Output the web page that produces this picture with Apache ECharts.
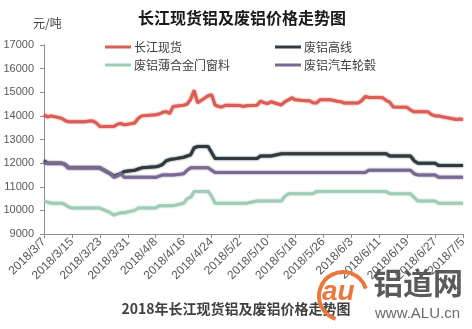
<!DOCTYPE html>
<html>
<head>
<meta charset="utf-8">
<script src="https://cdn.jsdelivr.net/npm/echarts@6/dist/echarts.min.js"></script>
<style>
  html, body { margin: 0; padding: 0; background: #fff; }
  #chart { width: 472px; height: 329px; }
</style>
</head>
<body>
<div id="chart"></div>
<script>
// Trading days (2018) and closing prices, 元/吨
const tradeDates = [
  '3/7','3/8','3/9','3/12','3/13','3/14','3/15','3/16','3/19','3/20','3/21','3/22','3/23','3/26','3/27','3/28','3/29','3/30',
  '4/2','4/3','4/4','4/8','4/9','4/10','4/11','4/12','4/13','4/16','4/17','4/18','4/19','4/20','4/23','4/24','4/25','4/26','4/27','4/28',
  '5/2','5/3','5/4','5/7','5/8','5/9','5/10','5/11','5/14','5/15','5/16','5/17','5/18','5/21','5/22','5/23','5/24','5/25','5/28','5/29','5/30','5/31',
  '6/1','6/4','6/5','6/6','6/7','6/8','6/11','6/12','6/13','6/14','6/15','6/19','6/20','6/21','6/22','6/25','6/26','6/27','6/28','6/29',
  '7/2','7/3','7/4','7/5'
];

const spotChangjiang = [
  14050,13950,14000,13900,13800,13750,13750,13750,13750,13780,13780,13700,13550,13550,13550,13650,13680,13620,
  13700,13900,14000,14050,14080,14150,14180,14100,14400,14450,14500,14700,15080,14550,14850,14900,14460,14400,14380,14450,
  14440,14400,14430,14450,14620,14560,14520,14600,14460,14600,14680,14760,14680,14640,14640,14560,14540,14680,14680,14650,14620,14600,
  14540,14540,14540,14650,14820,14780,14780,14770,14650,14580,14380,14360,14250,14170,14170,14170,14050,14000,14000,13960,
  13880,13850,13870,13850
];

const scrapWireRod = [
  12100,12000,12000,12000,11950,11800,11800,11800,11800,11800,11800,11800,11800,11550,11450,11500,11550,11650,
  11700,11750,11800,11850,11880,11950,12100,12150,12170,12250,12300,12350,12650,12700,12700,12450,12200,12200,12200,12200,
  12200,12200,12200,12200,12300,12300,12300,12300,12400,12400,12400,12400,12400,12400,12400,12400,12400,12400,12400,12400,12400,12400,
  12400,12400,12400,12400,12400,12400,12400,12400,12400,12300,12300,12300,12300,12100,12000,12000,12000,12000,11900,11900,
  11900,11900,11900,11900
];

const scrapWindowFrame = [
  10400,10350,10300,10300,10250,10150,10100,10100,10100,10100,10100,10100,10100,9900,9800,9850,9900,9900,
  10000,10100,10100,10100,10200,10200,10200,10200,10200,10300,10500,10550,10800,10800,10800,10600,10300,10300,10300,10300,
  10300,10300,10300,10400,10400,10400,10400,10400,10400,10600,10700,10700,10700,10700,10700,10700,10800,10800,10800,10800,10800,10800,
  10800,10800,10800,10800,10800,10800,10800,10800,10800,10700,10700,10700,10700,10550,10400,10400,10400,10400,10300,10300,
  10300,10300,10300,10300
];

const scrapWheelHub = [
  12000,12000,12000,12000,11950,11800,11800,11800,11800,11800,11800,11800,11800,11550,11400,11450,11550,11400,
  11400,11400,11400,11400,11450,11500,11500,11500,11500,11550,11700,11800,11800,11800,11800,11700,11600,11600,11600,11600,
  11600,11600,11600,11600,11600,11600,11600,11600,11600,11600,11600,11600,11600,11600,11600,11600,11600,11600,11600,11600,11600,11600,
  11600,11600,11600,11600,11600,11700,11700,11700,11700,11700,11700,11700,11700,11550,11500,11500,11500,11500,11400,11400,
  11400,11400,11400,11400
];

const seriesNames = ['长江现货', '废铝高线', '废铝薄合金门窗料', '废铝汽车轮毂'];
const seriesColors = ['#DB5E55', '#2F3A40', '#9FCDB8', '#7A6891'];
const seriesValues = [spotChangjiang, scrapWireRod, scrapWindowFrame, scrapWheelHub];

// Calendar-day categories so that gaps (weekends, holidays) keep true spacing
const year = 2018;
const categories = [];
{
  const d = new Date(year, 2, 7);
  const end = new Date(year, 6, 5);
  while (d <= end) {
    categories.push(year + '/' + (d.getMonth() + 1) + '/' + d.getDate());
    d.setDate(d.getDate() + 1);
  }
}
const indexOfDate = {};
categories.forEach((c, i) => { indexOfDate[c] = i; });

function toCalendar(values) {
  const arr = new Array(categories.length).fill(null);
  tradeDates.forEach((t, i) => { arr[indexOfDate[year + '/' + t]] = values[i]; });
  return arr;
}

const chart = echarts.init(document.getElementById('chart'), null, { renderer: 'canvas' });
const font = '"Noto Sans CJK SC", "Liberation Sans", sans-serif';
const latin = '"Liberation Sans", sans-serif';
const axisColor = '#8C8C8C';

chart.setOption({
  animation: false,
  textStyle: { fontFamily: font },
  title: {
    text: '长江现货铝及废铝价格走势图',
    left: 133, top: 5,
    textStyle: { fontSize: 16, fontWeight: 'bold', color: '#1A1A1A', fontFamily: font }
  },
  legend: [
    {
      data: [seriesNames[0], seriesNames[2]],
      orient: 'vertical', left: 100, top: 36,
      icon: 'rect', itemWidth: 26, itemHeight: 3, itemGap: 6,
      textStyle: { fontSize: 12, color: '#404040', padding: [0, 0, 0, -2] }
    },
    {
      data: [seriesNames[1], seriesNames[3]],
      orient: 'vertical', left: 270, top: 36,
      icon: 'rect', itemWidth: 26, itemHeight: 3, itemGap: 6,
      textStyle: { fontSize: 12, color: '#404040', padding: [0, 0, 0, -2] }
    }
  ],
  grid: { left: 44, right: 9, top: 45, bottom: 95, containLabel: false },
  xAxis: {
    type: 'category',
    data: categories,
    boundaryGap: false,
    axisLine: { lineStyle: { color: axisColor, width: 1 } },
    axisTick: { interval: 7, length: 4, lineStyle: { color: axisColor } },
    axisLabel: { interval: 7, rotate: 45, fontSize: 12, color: '#595959', margin: 6, fontFamily: latin },
    splitLine: { show: false }
  },
  yAxis: {
    type: 'value',
    min: 9000, max: 17000, interval: 1000,
    axisLine: { show: true, lineStyle: { color: axisColor, width: 1 } },
    axisTick: { show: true, length: 4, lineStyle: { color: axisColor } },
    axisLabel: { fontSize: 11, color: '#595959', margin: 10, fontFamily: latin, formatter: v => String(v) },
    splitLine: { show: false }
  },
  series: seriesNames.map((name, i) => ({
    name,
    type: 'line',
    data: toCalendar(seriesValues[i]),
    connectNulls: true,
    showSymbol: false,
    symbol: 'none',
    lineStyle: { color: seriesColors[i], width: 3, shadowColor: seriesColors[i], shadowBlur: 2 },
    itemStyle: { color: seriesColors[i] },
    z: 2 + i
  })),
  graphic: [
    {
      type: 'text', left: 33, top: 17,
      style: { text: '元/吨', fontSize: 12, fill: '#404040', fontFamily: font }
    },
    {
      type: 'text', left: 'center', top: 302,
      style: { text: '2018年长江现货铝及废铝价格走势图', fontSize: 14, fontWeight: 'bold', fill: '#404040', fontFamily: font }
    },
    // site mark, lower right
    {
      type: 'arc', z: 100,
      shape: { cx: 343, cy: 296, r: 24, startAngle: Math.PI * 0.6, endAngle: Math.PI * 1.9 },
      style: { stroke: '#E8793E', lineWidth: 4, fill: null }
    },
    {
      type: 'text', z: 100, left: 322, top: 278,
      style: { text: 'au', fontSize: 28, fontStyle: 'italic', fontWeight: 'bold', fill: '#E8793E', fontFamily: latin }
    },
    {
      type: 'text', z: 100, left: 373, top: 268,
      style: { text: '铝道网', fontSize: 30, fontWeight: 'bold', fill: '#5A5A5A', fontFamily: font }
    },
    {
      type: 'text', z: 100, left: 375, top: 306,
      style: { text: 'www.ALU.cn', fontSize: 15, fill: '#6A6A6A', fontFamily: latin }
    }
  ]
});
</script>
</body>
</html>
